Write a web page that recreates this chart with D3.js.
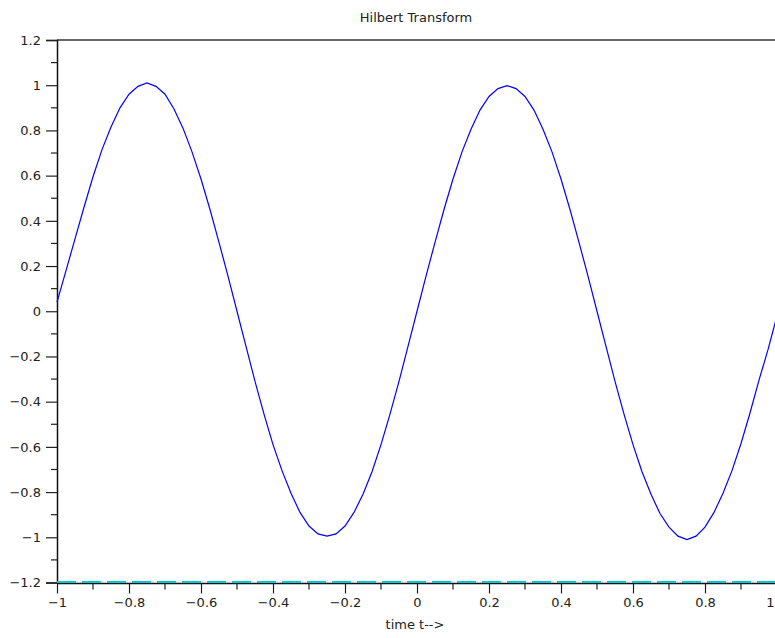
<!DOCTYPE html>
<html>
<head>
<meta charset="utf-8">
<script src="https://cdn.jsdelivr.net/npm/d3@7"></script>
<style>
  html, body { margin: 0; padding: 0; background: #fff; }
  svg { display: block; font-family: "DejaVu Sans", sans-serif; }
</style>
</head>
<body>
<svg id="chart" width="775" height="638"></svg>
<script>
// ---- data ----
const title = "Hilbert Transform";
const xLabel = "time t-->";
const tStart = -1, tStep = 0.025;
const hilbertValues = [
  0.04, 0.18, 0.32, 0.46, 0.595, 0.715, 0.815, 0.9, 0.96, 0.995,
  1.01, 0.995, 0.96, 0.895, 0.81, 0.705, 0.585, 0.45, 0.305, 0.155,
  0.0, -0.155, -0.31, -0.455, -0.59, -0.705, -0.805, -0.89, -0.95, -0.985,
  -0.995, -0.985, -0.95, -0.89, -0.81, -0.71, -0.59, -0.455, -0.31, -0.155,
  0.0, 0.155, 0.305, 0.45, 0.585, 0.705, 0.805, 0.89, 0.95, 0.985,
  0.998, 0.985, 0.95, 0.89, 0.805, 0.705, 0.585, 0.45, 0.305, 0.155,
  0.0, -0.155, -0.31, -0.455, -0.59, -0.71, -0.81, -0.895, -0.955, -0.995,
  -1.01, -0.995, -0.955, -0.89, -0.805, -0.705, -0.585, -0.45, -0.305, -0.17,
  -0.02
];
const baselineT = [-1, 1];
const baselineValues = [-1.2, -1.2];
const xTicks = [-1, -0.8, -0.6, -0.4, -0.2, 0, 0.2, 0.4, 0.6, 0.8, 1];
const xMinorTicks = [-0.9, -0.7, -0.5, -0.3, -0.1, 0.1, 0.3, 0.5, 0.7, 0.9];
const yTicks = [-1.2, -1, -0.8, -0.6, -0.4, -0.2, 0, 0.2, 0.4, 0.6, 0.8, 1, 1.2];
const yMinorTicks = [-1.1, -0.9, -0.7, -0.5, -0.3, -0.1, 0.1, 0.3, 0.5, 0.7, 0.9, 1.1];

// ---- layout ----
const svg = d3.select("#chart");
const plotL = 57, plotR = 777, plotT = 40, plotB = 582.5;
const W = 775;
const x = d3.scaleLinear().domain([-1, 1]).range([plotL, plotR]);
const y = d3.scaleLinear().domain([-1.2, 1.2]).range([plotB, plotT]);
const fmt = d => (Math.abs(d) < 1e-9 ? "0" : d3.format("~g")(d));

// top border
svg.append("line")
  .attr("x1", plotL).attr("x2", 800).attr("y1", plotT).attr("y2", plotT)
  .attr("stroke", "#333").attr("stroke-width", 1.5);

// x axis
const xAxisG = svg.append("g").attr("transform", `translate(0,${plotB + 1})`);
xAxisG.call(d3.axisBottom(x).tickValues(xTicks).tickSize(10).tickPadding(4).tickFormat(fmt));
xAxisG.append("g").selectAll("line").data(xMinorTicks).join("line")
  .attr("x1", d => x(d)).attr("x2", d => x(d)).attr("y1", 0).attr("y2", 6)
  .attr("stroke", "#222").attr("stroke-width", 1.2);

// y axis
const yAxisG = svg.append("g").attr("transform", `translate(${plotL},0)`);
yAxisG.call(d3.axisLeft(y).tickValues(yTicks).tickSize(11).tickPadding(5).tickFormat(fmt));
yAxisG.append("g").selectAll("line").data(yMinorTicks).join("line")
  .attr("x1", 0).attr("x2", -6).attr("y1", d => y(d)).attr("y2", d => y(d))
  .attr("stroke", "#222").attr("stroke-width", 1.2);

[xAxisG, yAxisG].forEach(g => {
  g.select(".domain").attr("stroke", "#111").attr("stroke-width", 1.5);
  g.selectAll(".tick line").attr("stroke", "#222").attr("stroke-width", 1.2);
  g.selectAll(".tick text").attr("font-size", 13).attr("fill", "#222")
    .attr("font-family", "DejaVu Sans, sans-serif");
});
xAxisG.select(".domain").attr("d", `M${plotL},0H800`);
// keep the last x label inside the window (it sits at the right edge)
xAxisG.selectAll(".tick").filter(d => d === 1).select("text")
  .attr("text-anchor", "end").attr("x", W - 1 - x(1));

// baseline series (cyan dashed)
const baseData = baselineT.map((t, i) => ({ t, v: baselineValues[i] }));
svg.append("path").datum(baseData)
  .attr("fill", "none").attr("stroke", "#00c8d2").attr("stroke-width", 2)
  .attr("stroke-dasharray", "19,6")
  .attr("d", d3.line().x(d => x(d.t)).y(d => y(d.v) - 0.5));

// Hilbert transform curve
const curveData = hilbertValues.map((v, i) => ({ t: tStart + i * tStep, v }));
svg.append("path").datum(curveData)
  .attr("fill", "none").attr("stroke", "#0000ff").attr("stroke-width", 1.2)
  .attr("d", d3.line().x(d => x(d.t)).y(d => y(d.v)));

// title & x label
svg.append("text").attr("x", 416).attr("y", 22).attr("text-anchor", "middle")
  .attr("font-size", 13).attr("fill", "#222").text(title);
svg.append("text").attr("x", 415).attr("y", 629).attr("text-anchor", "middle")
  .attr("font-size", 13).attr("fill", "#222").text(xLabel);
</script>
</body>
</html>
